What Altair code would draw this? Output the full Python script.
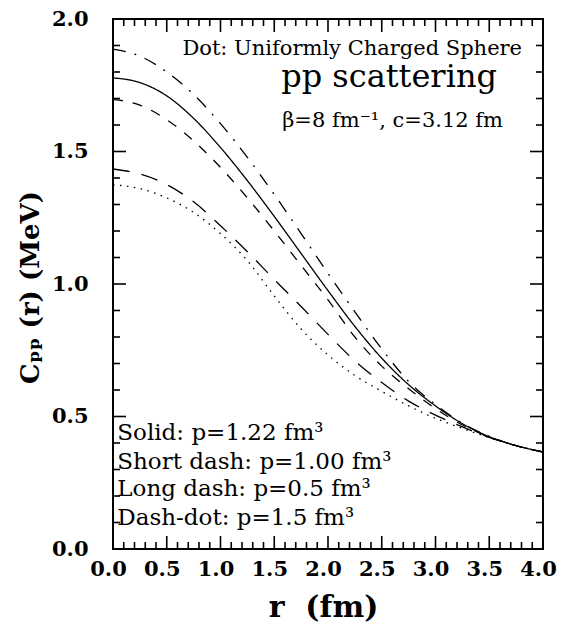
import altair as alt
import pandas as pd

# ---- data ----
r_fm = [0.0, 0.25, 0.5, 0.75, 1.0, 1.25, 1.5, 1.75, 2.0, 2.25, 2.5, 2.75, 3.0, 3.25, 3.5, 3.75, 4.0]
solid      = [1.778, 1.760, 1.710, 1.625, 1.515, 1.390, 1.255, 1.115, 0.975, 0.840, 0.720, 0.620, 0.540, 0.473, 0.424, 0.390, 0.366]
short_dash = [1.697, 1.675, 1.620, 1.540, 1.440, 1.325, 1.200, 1.070, 0.940, 0.800, 0.690, 0.605, 0.530, 0.468, 0.423, 0.390, 0.366]
long_dash  = [1.434, 1.415, 1.375, 1.310, 1.220, 1.122, 1.017, 0.915, 0.810, 0.710, 0.628, 0.558, 0.505, 0.461, 0.421, 0.390, 0.366]
dash_dot   = [1.886, 1.860, 1.800, 1.715, 1.605, 1.478, 1.338, 1.190, 1.040, 0.895, 0.755, 0.632, 0.545, 0.475, 0.425, 0.390, 0.366]
dotted     = [1.375, 1.360, 1.325, 1.270, 1.190, 1.088, 0.955, 0.830, 0.732, 0.655, 0.595, 0.540, 0.493, 0.455, 0.420, 0.390, 0.366]

series_names = ["Solid", "Short dash", "Long dash", "Dash-dot", "Dot"]

x_major = [0.0, 0.5, 1.0, 1.5, 2.0, 2.5, 3.0, 3.5, 4.0]
x_minor = [round(i * 0.1, 1) for i in range(41) if i % 5 != 0]
y_major = [0.0, 0.5, 1.0, 1.5, 2.0]
y_minor = [round(i * 0.1, 1) for i in range(21) if i % 5 != 0]

note_text = ["Dot: Uniformly Charged Sphere", "pp scattering", "\u03b2=8 fm\u207b\u00b9, c=3.12 fm"]
note_x = [3.805, 3.572, 3.628]
note_y = [1.866, 1.744, 1.594]

legend_text = ["Solid: p=1.22 fm\u00b3", "Short dash: p=1.00 fm\u00b3",
               "Long dash: p=0.5 fm\u00b3", "Dash-dot: p=1.5 fm\u00b3"]
legend_x = [0.04, 0.04, 0.04, 0.04]
legend_y = [0.412, 0.301, 0.199, 0.090]

# ---- layout / style ----
W, H = 430, 530
SERIF = "DejaVu Serif"
dash_styles = [[1, 0], [10, 10], [17, 12], [13, 9, 2, 9], [1.5, 5.5]]

xs = alt.Scale(domain=[0, 4], nice=False, zero=False)
ys = alt.Scale(domain=[0, 2], nice=False, zero=False)

AX_X = alt.Axis(
    values=x_major, format=".1f", ticks=False, tickSize=0, domain=False, grid=False,
    labelFont=SERIF, labelFontWeight="bold", labelFontSize=21, labelColor="black",
    labelPadding=9, labelOffset=-5, labelFlush=False, labelOverlap=False,
    title="r\u00a0\u00a0(fm)", titleFont=SERIF, titleFontWeight="bold", titleFontSize=30,
    titleColor="black", titleX=W / 2 - 5, titleY=58, titleAlign="center", titleBaseline="middle")
AX_Y = alt.Axis(
    values=y_major, format=".1f", ticks=False, tickSize=0, domain=False, grid=False,
    labelFont=SERIF, labelFontWeight="bold", labelFontSize=21, labelColor="black",
    labelPadding=25, labelFlush=False, labelOverlap=False,
    title="C\u209a\u209a\u00a0(r)\u00a0(MeV)", titleFont=SERIF, titleFontWeight="bold", titleFontSize=26,
    titleColor="black", titleX=-83, titleY=268, titleAngle=270,
    titleAlign="center", titleBaseline="middle")

rows = []
for name, vals in zip(series_names, [solid, short_dash, long_dash, dash_dot, dotted]):
    for rv, cv in zip(r_fm, vals):
        rows.append({"r": rv, "C": cv, "style": name})
df = pd.DataFrame(rows)

lines = alt.Chart(df).mark_line(color="black", strokeWidth=1.3, interpolate="monotone").encode(
    x=alt.X("r:Q", scale=xs, axis=AX_X),
    y=alt.Y("C:Q", scale=ys, axis=AX_Y),
    strokeDash=alt.StrokeDash("style:N", scale=alt.Scale(domain=series_names, range=dash_styles), legend=None),
    detail="style:N",
)


def xtick_layer(vals, length, top):
    d = pd.DataFrame({"r": vals})
    y0 = 0 if top else H
    y1 = length if top else H - length
    return alt.Chart(d).mark_rule(color="black", strokeWidth=1.6).encode(
        x=alt.X("r:Q", scale=xs, axis=AX_X), y=alt.value(y0), y2=alt.value(y1))


def ytick_layer(vals, length, right):
    d = pd.DataFrame({"C": vals})
    x0 = W if right else 0
    x1 = W - length if right else length
    return alt.Chart(d).mark_rule(color="black", strokeWidth=1.6).encode(
        y=alt.Y("C:Q", scale=ys, axis=AX_Y), x=alt.value(x0), x2=alt.value(x1))


ticks = [
    xtick_layer(x_major, 13, False), xtick_layer(x_minor, 7, False),
    xtick_layer(x_major, 13, True), xtick_layer(x_minor, 7, True),
    ytick_layer(y_major, 13, False), ytick_layer(y_minor, 7, False),
    ytick_layer(y_major, 13, True), ytick_layer(y_minor, 7, True),
]


def note_layer(i, size):
    d = pd.DataFrame({"r": [note_x[i]], "C": [note_y[i]], "t": [note_text[i]]})
    return alt.Chart(d).mark_text(font=SERIF, fontSize=size, align="right",
                                  baseline="alphabetic", color="black").encode(
        x=alt.X("r:Q", scale=xs, axis=AX_X), y=alt.Y("C:Q", scale=ys, axis=AX_Y), text="t:N")


notes = [note_layer(0, 21), note_layer(1, 32), note_layer(2, 21)]

leg_df = pd.DataFrame({"r": legend_x, "C": legend_y, "t": legend_text})
legend_notes = alt.Chart(leg_df).mark_text(font=SERIF, fontSize=23, align="left",
                                           baseline="alphabetic", color="black").encode(
    x=alt.X("r:Q", scale=xs, axis=AX_X), y=alt.Y("C:Q", scale=ys, axis=AX_Y), text="t:N")

chart = alt.layer(lines, *ticks, *notes, legend_notes).properties(
    width=W, height=H,
    padding={"left": 113, "top": 19, "right": 22, "bottom": 75},
    autosize=alt.AutoSizeParams(type="none"),
    background="white",
).configure_view(stroke="black", strokeWidth=2)

chart.save("out.html", embed_options={"renderer": "svg", "actions": False})
